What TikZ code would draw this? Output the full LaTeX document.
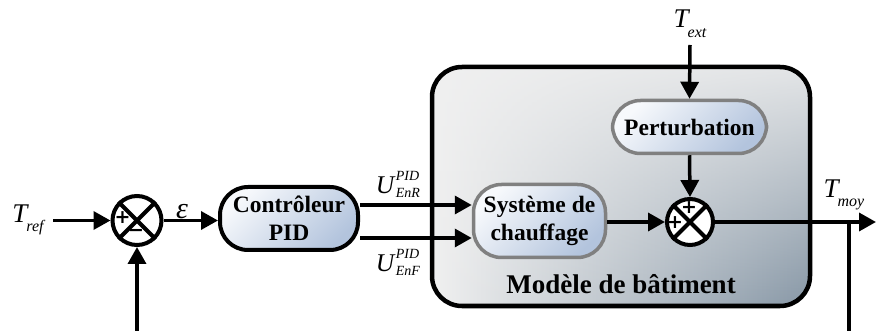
\documentclass[tikz,border=0pt]{standalone}
\usepackage{fontspec}
\setmainfont{Liberation Serif}
\newfontfamily\signfont{DejaVu Sans}
\usetikzlibrary{arrows.meta,calc,fadings}
\definecolor{blkA}{HTML}{F7F9FC}
\definecolor{blkB}{HTML}{B3C4DD}
\definecolor{bigA}{HTML}{F0F0F0}
\definecolor{bigM}{HTML}{D3D9DE}
\definecolor{bigB}{HTML}{8797A6}
\definecolor{grayborder}{HTML}{808080}
\tikzfading[name=fadetop, top color=transparent!12, bottom color=transparent!100]
% T with lowered italic subscript
\newcommand{\tsym}[2]{{\itshape #1\kern-1pt\raisebox{-0.36em}{\fontsize{16}{16}\selectfont #2}}}
% U with stacked superscript and subscript
\newcommand{\usym}[3]{{\itshape #1\kern1.5pt\rlap{\raisebox{13pt}{\fontsize{14}{14}\selectfont #2}}\raisebox{-4pt}{\fontsize{14}{14}\selectfont #3}}}
\begin{document}
\begin{tikzpicture}[x=1pt,y=-1pt,
  wire/.style={line width=3.5pt,-{Triangle[length=17pt,width=18pt]}},
  plainwire/.style={line width=3.5pt},
  ctrlbox/.style={rectangle,rounded corners=28pt,draw=black,line width=4pt,
    top color=blkA,bottom color=blkB,shading angle=45,
    font=\fontsize{23.5}{28}\selectfont\bfseries,align=center,inner sep=0pt},
  innerbox/.style={ctrlbox,draw=grayborder,line width=3.5pt},
  bigbox/.style={rectangle,rounded corners=30pt,draw=black,line width=4.5pt,
    left color=bigA,middle color=bigM,right color=bigB,inner sep=0pt,
    path picture={\fill[bigA,path fading=fadetop]
      (path picture bounding box.south west) rectangle (path picture bounding box.north east);}},
  sumnode/.style={circle,draw=black,line width=4pt,fill=white,inner sep=0pt},
  signlbl/.style={font=\signfont\bfseries\fontsize{19}{19}\selectfont,inner sep=0pt},
  mathlbl/.style={font=\fontsize{27}{30}\selectfont,inner sep=0pt},
  ulbl/.style={font=\fontsize{25.5}{28}\selectfont,inner sep=0pt}
]
\useasboundingbox (0,0) rectangle (876,331);

% big building model box
\node[bigbox,minimum width=378pt,minimum height=239pt] (big) at (621,186.5) {};
\node[font=\fontsize{27}{30}\selectfont\bfseries,inner sep=0pt] (bigtxt) at (621,284) {Modèle de bâtiment};

% blocks
\node[ctrlbox,minimum width=138pt,minimum height=63pt] (ctrl) at (289,218.5) {Contrôleur\\PID};
\node[innerbox,minimum width=154pt,minimum height=53pt] (pert) at (689.5,127) {Perturbation};
\node[innerbox,minimum width=132pt,minimum height=73pt] (sys) at (539.5,221) {Système de\\chauffage};

% summing junctions
\node[sumnode,minimum size=49pt] (s1) at (137,220.5) {};
\draw[line width=4pt] (s1.45) -- (s1.225) (s1.135) -- (s1.-45);
\node[signlbl] (s1p) at (122.5,217.5) {+};
\node[signlbl] (s1m) at (136,233) {−};

\node[sumnode,minimum size=46pt] (s2) at (690,222) {};
\draw[line width=4pt] (s2.45) -- (s2.225) (s2.135) -- (s2.-45);
\node[signlbl] (s2p1) at (689,207.5) {+};
\node[signlbl] (s2p2) at (675,223) {+};

% labels
\node[mathlbl] (tref) at (28,220) {\tsym{T}{ref}};
\node[font=\fontsize{30}{30}\selectfont\itshape,inner sep=0pt] (eps) at (182,212) {ε};
\node[ulbl] (uenr) at (398,184) {\usym{U}{PID}{EnR}};
\node[ulbl] (uenf) at (398,262) {\usym{U}{PID}{EnF}};
\node[mathlbl] (text) at (690,24) {\tsym{T}{ext}};
\node[mathlbl] (tmoy) at (844,195) {\tsym{T}{moy}};

% coordinates
\coordinate (trefout) at (53,220.5);
\coordinate (fb1) at (137,331);
\coordinate (textout) at (690,45);
\coordinate (outend) at (876,222);
\coordinate (fbtop) at (849,222);
\coordinate (fb2) at (849,331);

% connectors
\draw[wire] (trefout) -- (s1.west);
\draw[wire] (fb1) -- (s1.south);
\draw[wire] (s1.east) -- (ctrl.west |- s1.east);
\draw[wire] (ctrl.east |- 0,205) -- (sys.west |- 0,205);
\draw[wire] (ctrl.east |- 0,238) -- (sys.west |- 0,238);
\draw[wire] (textout) -- (pert.north);
\draw[wire] (pert.south) -- (s2.north);
\draw[wire] (sys.east |- s2.west) -- (s2.west);
\draw[wire] (s2.east) -- (outend);
\draw[plainwire] (fbtop) -- (fb2);
\end{tikzpicture}
\end{document}
